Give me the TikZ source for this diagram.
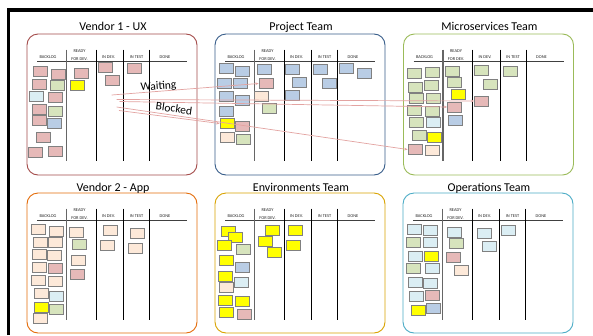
\documentclass[tikz,border=0pt]{standalone}
\usepackage{fontspec}
\setmainfont{Carlito}
\usetikzlibrary{arrows.meta}

% sticky-note fills
\definecolor{pk}{HTML}{E6B9B8}
\definecolor{gr}{HTML}{D7E4BD}
\definecolor{lb}{HTML}{DBEEF4}
\definecolor{bl}{HTML}{B9CDE5}
\definecolor{ye}{HTML}{FFFF00}
\definecolor{pe}{HTML}{FDE9D9}
% board outlines
\definecolor{uxred}{HTML}{A44C4A}
\definecolor{projblue}{HTML}{385D8A}
\definecolor{msgreen}{HTML}{9BBB59}
\definecolor{apporange}{HTML}{E46C0A}
\definecolor{envgold}{HTML}{D9A300}
\definecolor{opscyan}{HTML}{4BACC6}
\definecolor{linkred}{HTML}{E3A3A1}

\tikzset{
  boardframe/.style={rounded corners=11pt, line width=0.9pt},
  boardtitle/.style={font=\fontsize{12}{14}\selectfont, anchor=base, inner sep=0},
  header/.style={font=\fontsize{4.4}{4.6}\selectfont, text=black!85, inner sep=0},
  firstdivider/.style={draw=black!60, line width=1.4pt},
  divider/.style={draw=black, line width=0.8pt},
  headline/.style={draw=black!75, line width=1.1pt},
  card/.style={draw=black!50, line width=0.75pt, minimum width=14pt,
    minimum height=10pt, inner sep=0},
  tag/.style={font=\fontsize{11.5}{13}\selectfont, inner sep=0},
  link/.style={draw=linkred, line width=0.7pt,
    -{Stealth[length=3.2pt,width=2.6pt]}},
}

% #1 x, #2 y (top-left), #3 height, #4 colour, #5 title, #6 name, #7 title baseline offset
\newcommand\kanbanboard[7]{%
  \begin{scope}[shift={(#1,#2)}]
    \draw[boardframe, draw=#4] (0,0) rectangle (170,#3);
    \node[boardtitle] (#6-title) at (86,#7) {#5};
    \draw[headline] (10,27.5) -- (160,27.5);
    \draw[firstdivider] (39.5,15.5) -- (39.5,126.5);
    \foreach \dx in {69,96.5,122.5}
      \draw[divider] (\dx,15.5) -- (\dx,126.5);
    \node[header] (#6-backlog) at (21,23.5) {BACKLOG};
    \node[header] (#6-ready) at (52.5,17.5) {READY};
    \node[header] (#6-fordev) at (52.5,25) {FOR DEV.};
    \node[header] (#6-indev) at (81.5,23.5) {IN DEV.};
    \node[header] (#6-intest) at (109.5,23.5) {IN TEST};
    \node[header] (#6-done) at (138,23.5) {DONE};
  \end{scope}}

% #1 name prefix, #2 list of x/y/fill
\newcommand\stickies[2]{%
  \foreach \cx/\cy/\cc [count=\ci] in {#2}
    \node[card, fill=\cc] (#1-\ci) at (\cx,\cy) {};}

\begin{document}
\begin{tikzpicture}[x=1pt, y=-1pt]
\useasboundingbox (0,0) rectangle (593,335);
\fill[white] (0,0) rectangle (593,335);

% outer frame
\draw[line width=3.3pt, line join=miter] (8.3,335) -- (8.3,10) -- (593,10);

% boards
\kanbanboard{27}{34}{141}{uxred}{Vendor 1 - UX}{vux}{-3.5}
\kanbanboard{215}{34}{141}{projblue}{Project Team}{proj}{-3.5}
\kanbanboard{403.5}{34}{141}{msgreen}{Microservices Team}{ms}{-3.5}
\kanbanboard{27}{193}{140}{apporange}{Vendor 2 - App}{app}{-2}
\kanbanboard{215}{193}{140}{envgold}{Environments Team}{env}{-2}
\kanbanboard{403}{193}{140}{opscyan}{Operations Team}{ops}{-2}

% Vendor 1 - UX
\stickies{v}{40.5/71/pk, 58/74/pk, 39/84/pk, 57/85/gr, 36/96/lb,
  55.5/97.5/pk, 39/109/pk, 55.5/111/gr, 39/120.5/pk, 54/123/bl,
  43/137/pk, 35/152/pk, 55/151/pk,
  81/73/pk, 77.5/85.5/ye,
  105/67/pk, 112/80.5/pk,
  134.5/68/pk}

% Project Team
\stickies{p}{226/68/bl, 242/71.5/bl, 224/83/bl, 240.5/83/bl, 226/96/bl,
  242.5/100.5/bl, 226/111.5/bl, 227/123.5/ye, 242/126/pk, 227/137/pe,
  243.5/139.5/gr,
  264/69.5/bl, 266/83.5/pk, 261/96/pe, 269.5/108/gr,
  292/69.5/bl, 299/82/bl, 292.5/95/bl,
  320/69.5/bl, 329/83/bl,
  346/68.5/bl, 364.5/73.5/bl}

% Microservices Team
\stickies{m}{414/73.5/gr, 432/72.5/gr, 415/87/gr, 431/85.5/gr, 416/98.5/gr,
  433.5/98/gr, 414/110.5/gr, 432/111.5/gr, 416/122.5/gr, 433.5/122.5/lb,
  419/135.5/gr, 434/137/ye, 415/149.5/pk, 432.5/150.5/pe,
  452/71/gr, 454.5/82.5/gr, 458/94.5/ye, 454.5/107/pk, 455.5/120.5/bl,
  481.5/70.5/gr, 490/84/gr, 481.5/101/pk,
  510/71.5/gr}

% Vendor 2 - App
\stickies{a}{38/229/pe, 56/231/pe, 40/242/pe, 55.5/242/pe, 39/254/pe,
  54.5/255/pe, 39.5/267.5/pe, 55.5/268/pk, 38/280.5/pe, 55.5/281.5/pe,
  41/293.5/pe, 56.5/296.5/lb, 41/307/ye, 56/309.5/gr, 40.5/318.5/pe,
  76.5/232/pe, 79/244.5/gr, 78/260.5/pe, 77.5/274.5/pk,
  110/230.5/pe, 107/245.5/pe,
  137/233.5/pe, 135/248/pe}

% Environments Team
\stickies{e}{228/231/ye, 235.5/237.5/ye, 224.5/245/ye, 243/249.5/gr,
  226/260.5/ye, 242/267.5/bl, 225.5/276.5/ye, 226/287.5/pe, 241.5/282.5/lb,
  225.5/300/ye, 242/301/ye, 226.5/312.5/ye, 244/314.5/pk,
  272.5/230/ye, 265/241.5/ye, 274/252.5/ye,
  295/230/ye, 293.5/245/ye}

% Operations Team
\stickies{o}{414/229.5/lb, 430.5/230.5/lb, 413/242/gr, 430.5/242.5/lb,
  415/256/lb, 431.5/256.5/ye, 413/268/gr, 432/268/lb, 415/282.5/lb,
  430/283.5/lb, 416/296.5/lb, 432/295.5/pk, 418/310.5/ye, 433.5/308.5/bl,
  454.5/232/lb, 456.5/243.5/gr, 453.5/257.5/pk, 461.5/270/pe,
  484/233/lb, 489/246.5/lb,
  508.5/230.5/lb}

% dependency links
\coordinate (sA) at (111.7,95);
\coordinate (sB) at (116.7,99.5);
\coordinate (sC) at (119.5,101.5);
\coordinate (sD) at (116.7,107);
\coordinate (sE) at (119,110.5);
\draw[link] (sA) -- (p-13.west);
\draw[link] (sB) -- (m-22.west);
\draw[link] (sC) -- (m-18.west);
\draw[link] (sD) -- (m-13.west);
\draw[link] (sE) -- (p-8.west);

\node[tag, rotate=4] (waiting) at (158.5,86.5) {Waiting};
\node[tag, rotate=-8] (blocked) at (174,108.5) {Blocked};
\end{tikzpicture}
\end{document}
